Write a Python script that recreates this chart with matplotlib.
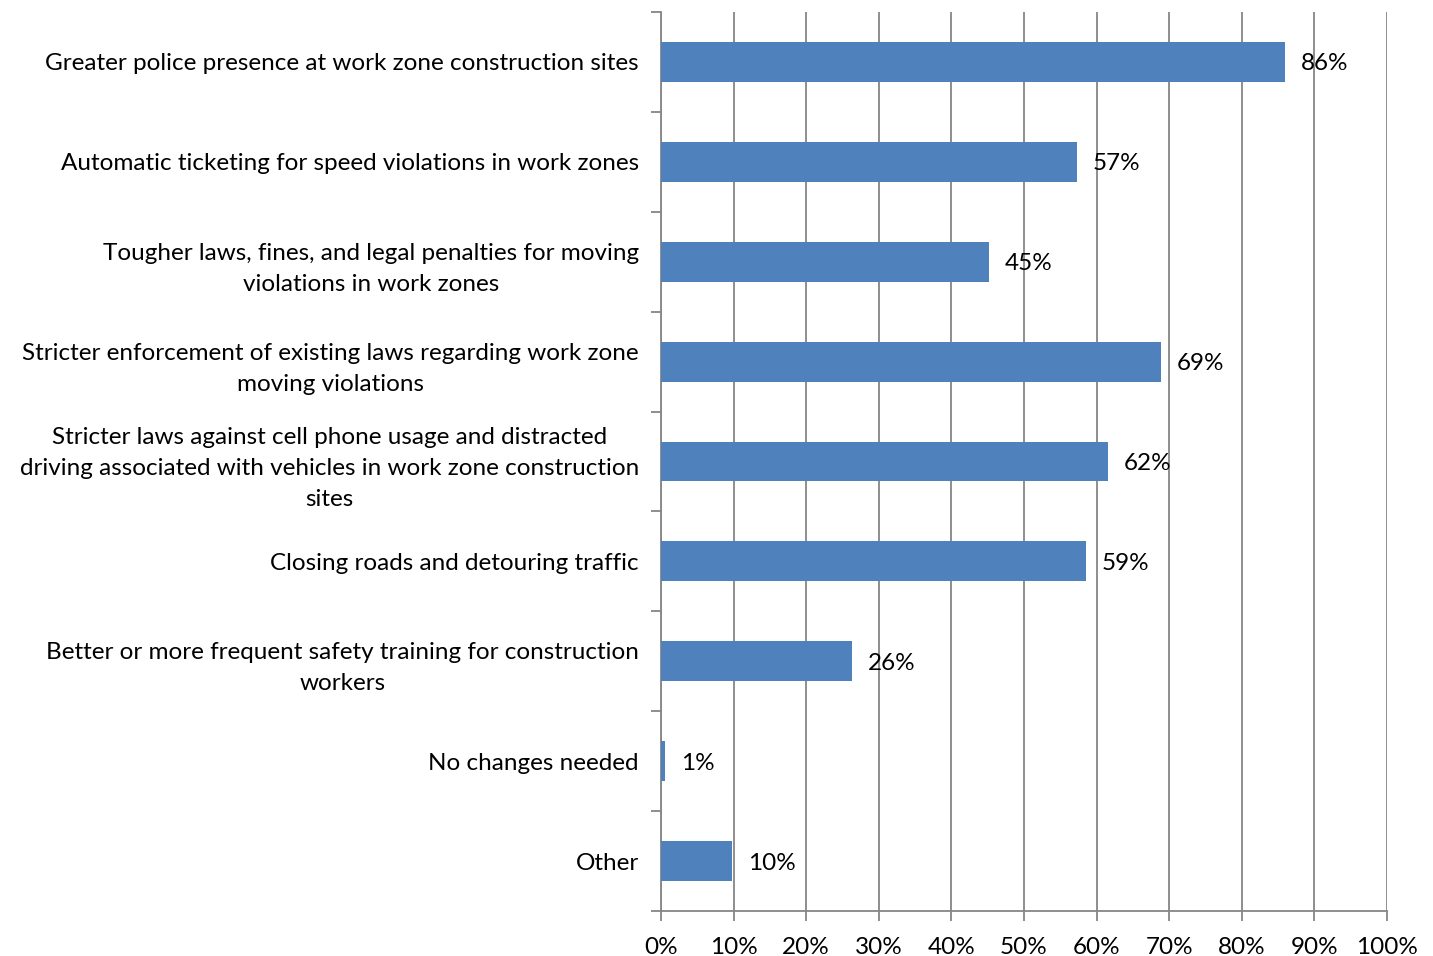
import numpy as np
import matplotlib
matplotlib.use("Agg")
import matplotlib.pyplot as plt
from matplotlib.ticker import FixedLocator

categories = [
    "Greater police presence at work zone construction sites",
    "Automatic ticketing for speed violations in work zones",
    "Tougher laws, fines, and legal penalties for moving\nviolations in work zones",
    "Stricter enforcement of existing laws regarding work zone\nmoving violations",
    "Stricter laws against cell phone usage and distracted\ndriving associated with vehicles in work zone construction\nsites",
    "Closing roads and detouring traffic",
    "Better or more frequent safety training for construction\nworkers",
    "No changes needed",
    "Other",
]
values = [86, 57.3, 45.2, 68.9, 61.6, 58.5, 26.3, 0.6, 9.8]
labels = ["86%", "57%", "45%", "69%", "62%", "59%", "26%", "1%", "10%"]

plt.rcParams['font.family'] = ['Lato', 'DejaVu Sans']
fs = 17.5

fig = plt.figure(figsize=(14.33, 9.56), dpi=100)
ax = fig.add_axes([661 / 1433, 1 - 911 / 956, 726 / 1433, 899 / 956])

y = np.arange(len(categories))
ax.barh(y, values, height=0.4, color="#4f81bd", zorder=3)
for yi, v, lab in zip(y, values, labels):
    ax.text(v + 2.2, yi, lab, va="center_baseline", ha="left", fontsize=fs, zorder=4)

ax.set_xlim(0, 100)
ax.set_ylim(len(categories) - 0.5, -0.5)
ax.set_xticks(np.arange(0, 101, 10))
ax.set_xticklabels([f"{t}%" for t in range(0, 101, 10)], fontsize=fs)
ax.xaxis.grid(True, color="#868686", linewidth=1.3, zorder=0)

ax.set_yticks(y)
ax.set_yticklabels(categories, fontsize=fs, multialignment="center",
                   linespacing=1.6)
ax.yaxis.set_minor_locator(FixedLocator(np.arange(-0.5, len(categories), 1)))
ax.tick_params(axis="y", which="major", length=0, pad=16)
ax.tick_params(axis="y", which="minor", length=7, width=1.3, color="#868686")
ax.tick_params(axis="x", length=7, width=1.3, color="#868686", pad=12)

for s in ["top", "right"]:
    ax.spines[s].set_visible(False)
for s in ["left", "bottom"]:
    ax.spines[s].set_color("#868686")
    ax.spines[s].set_linewidth(1.3)

fig.savefig("out.png", dpi=100)
